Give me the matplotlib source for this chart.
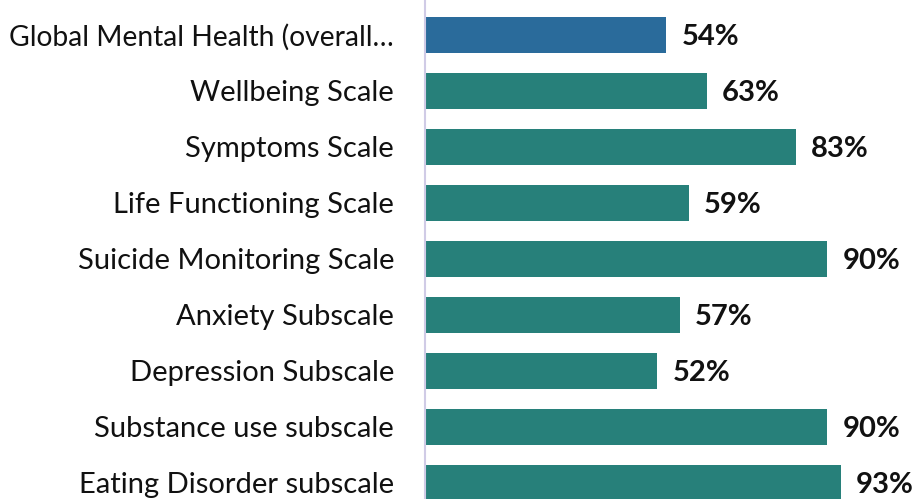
import matplotlib
matplotlib.use("Agg")
import matplotlib.pyplot as plt
from matplotlib.transforms import offset_copy

categories = [
    "Global Mental Health (overall\u2026",
    "Wellbeing Scale",
    "Symptoms Scale",
    "Life Functioning Scale",
    "Suicide Monitoring Scale",
    "Anxiety Subscale",
    "Depression Subscale",
    "Substance use subscale",
    "Eating Disorder subscale",
]
values = [54, 63, 83, 59, 90, 57, 52, 90, 93]

C_BLUE = "#2a6b9b"
C_TEAL = "#27807a"
C_AXIS = "#d0cbe6"

plt.rcParams["font.family"] = ["Lato", "DejaVu Sans"]

fig = plt.figure(figsize=(9.14, 4.99), dpi=100)
ax = fig.add_axes([425 / 914, 0, 1 - 425 / 914, 1])

colors = [C_BLUE] + [C_TEAL] * (len(values) - 1)
y = list(range(len(values)))
ax.barh(y, values, height=0.643, color=colors, zorder=2)

ax.set_xlim(0, 109.4)
ax.set_ylim(8.286, -0.625)

for sp in ["top", "right", "bottom"]:
    ax.spines[sp].set_visible(False)
ax.spines["left"].set_color(C_AXIS)
ax.spines["left"].set_linewidth(1.5)
ax.set_xticks([])
ax.set_yticks(y)
ax.set_yticklabels(categories, fontsize=21, color="#111111")
ax.tick_params(axis="y", length=0, pad=22.3)
# the long truncated label is a bit wider in this font, shrink it to fit
ax.get_yticklabels()[0].set_fontsize(20.3)

for yi, v in zip(y, values):
    ax.text(v, yi + 0.03, f"{v}%",
            transform=offset_copy(ax.transData, fig=fig, x=15, y=0, units="dots"),
            ha="left", va="center", fontsize=21, fontweight="bold", color="#111111")

fig.savefig("out.png", dpi=100)
